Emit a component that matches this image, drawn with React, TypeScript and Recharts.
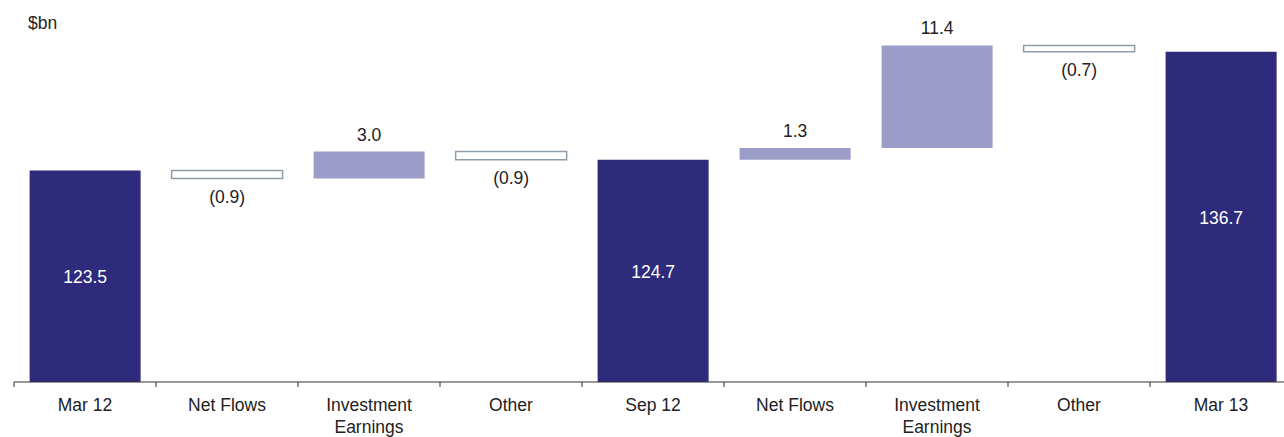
import * as React from "react";
import { BarChart, Bar, XAxis, YAxis, Cell, LabelList } from "recharts";

const categories = ["Mar 12", "Net Flows", "Investment Earnings", "Other", "Sep 12", "Net Flows", "Investment Earnings", "Other", "Mar 13"];
const tickLines = [["Mar 12"], ["Net Flows"], ["Investment", "Earnings"], ["Other"], ["Sep 12"], ["Net Flows"], ["Investment", "Earnings"], ["Other"], ["Mar 13"]];
const values = [123.5, -0.9, 3.0, -0.9, 124.7, 1.3, 11.4, -0.7, 136.7];
const isTotal = [true, false, false, false, true, false, false, false, true];

const Y_MIN = 100;
const Y_MAX = 140;

const NAVY = "#2e2a7c";
const LILAC = "#9c9cc9";
const BOX_STROKE = "#8e9cab";
const TEXT = "#222";
const FONT = "'Liberation Sans', Arial, sans-serif";
const FS = 17.5;

const W = 1300;
const H = 437;
const M = { top: 22, right: 8, left: 14, bottom: 0 };
const AXIS_H = 55;
const AXIS_Y = H - AXIS_H;
const BAND = (W - M.left - M.right) / categories.length;

// build the waterfall rows from the running total
let running = 0;
const rows = categories.map((name, i) => {
  const v = values[i];
  let range: [number, number];
  if (isTotal[i]) {
    range = [Y_MIN, v];
    running = v;
  } else {
    const next = running + v;
    range = [Math.min(running, next), Math.max(running, next)];
    running = next;
  }
  return { idx: i, name, range };
});

const fmt = (v: number) => (v < 0 ? `(${Math.abs(v).toFixed(1)})` : v.toFixed(1));

const CategoryTick = (props: any) => {
  const { x, payload } = props;
  const i = payload.value as number;
  const lines = tickLines[i];
  return (
    <g>
      <line x1={x - BAND / 2} x2={x - BAND / 2} y1={AXIS_Y} y2={AXIS_Y + 5} stroke="#333" strokeWidth={1} />
      <text x={x} y={AXIS_Y + 29} textAnchor="middle" fontSize={FS} fill={TEXT} fontFamily={FONT}>
        {lines.map((l, k) => (
          <tspan key={k} x={x} dy={k === 0 ? 0 : 22}>
            {l}
          </tspan>
        ))}
      </text>
    </g>
  );
};

const ValueLabel = (props: any) => {
  const { x, y, width, height, index } = props;
  const v = values[index];
  const cx = x + width / 2;
  let ty: number;
  let fill = TEXT;
  if (isTotal[index]) {
    ty = y + height / 2 + 1;
    fill = "#fff";
  } else if (v >= 0) {
    ty = y - 17;
  } else {
    ty = y + height + 18;
  }
  return (
    <text x={cx} y={ty} textAnchor="middle" dominantBaseline="central" fontSize={FS} fill={fill} fontFamily={FONT}>
      {fmt(v)}
    </text>
  );
};

export default function App() {
  return (
    <div style={{ position: "absolute", left: 0, top: 0, width: 1284, height: H, overflow: "hidden", background: "#fff" }}>
      <div style={{ position: "absolute", left: 28, top: 13, fontSize: FS, color: TEXT, fontFamily: FONT }}>$bn</div>
      <BarChart width={W} height={H} data={rows} margin={M} barCategoryGap="11%">
        <XAxis
          dataKey="idx"
          height={AXIS_H}
          axisLine={{ stroke: "#333", strokeWidth: 1 }}
          tickLine={false}
          tick={<CategoryTick />}
          interval={0}
        />
        <YAxis hide domain={[Y_MIN, Y_MAX]} allowDataOverflow />
        <Bar dataKey="range" isAnimationActive={false}>
          {rows.map((r, i) => {
            const total = isTotal[i];
            const neg = !total && values[i] < 0;
            return (
              <Cell
                key={i}
                fill={total ? NAVY : neg ? "#fff" : LILAC}
                stroke={neg ? BOX_STROKE : "none"}
                strokeWidth={neg ? 1.5 : 0}
              />
            );
          })}
          <LabelList dataKey="range" content={<ValueLabel />} />
        </Bar>
      </BarChart>
    </div>
  );
}
